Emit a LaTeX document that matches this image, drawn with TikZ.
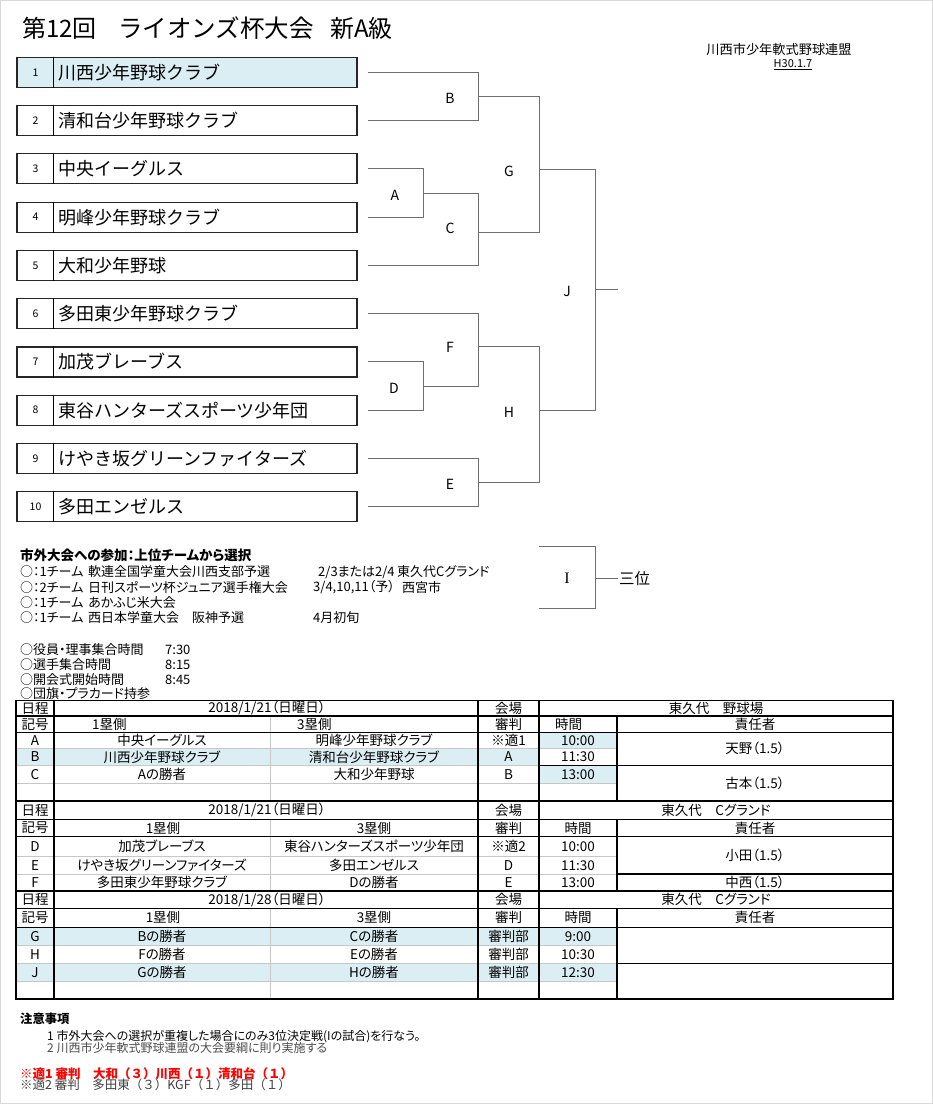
\documentclass[tikz,border=0pt]{standalone}
\usepackage{fontspec}
\setmainfont[RawFeature=+palt]{Noto Sans CJK JP}
\newfontfamily\jpfull{Noto Sans CJK JP}
\newfontfamily\seriffont{Liberation Serif}
\definecolor{cellblue}{RGB}{218,238,243}
\definecolor{bracketgray}{RGB}{110,110,110}

\begin{document}
\begin{tikzpicture}[x=1pt, y=-1pt,
    every node/.style={inner sep=1pt},
    teambox/.style={draw=black!85, line width=1.2pt, minimum width=340, minimum height=30},
    hl/.style={fill=cellblue},
    plain/.style={fill=white},
    bline/.style={draw=bracketgray, line width=0.9pt},
    mlabel/.style={font=\fontsize{14}{16}\selectfont},
    note/.style={anchor=west, font=\fontsize{13}{15}\selectfont},
    cell/.style={font=\fontsize{13.5}{15}\selectfont},
    rule/.style={line width=1.1pt},
    faint/.style={line width=0.6pt, black!22}]
  \useasboundingbox (0,0) rectangle (933,1104);
  \fill[white] (0,0) rectangle (933,1104);
  \draw[black!15, line width=0.8pt] (0.5,0.5) rectangle (932.5,1103.5);

  % title and header
  \node[anchor=west, font=\jpfull\fontsize{24}{26}\selectfont] (title1) at (21,28) {第12回};
  \node[anchor=west, font=\jpfull\fontsize{24.5}{26}\selectfont] (title2) at (117,28) {ライオンズ杯大会};
  \node[anchor=west, font=\jpfull\fontsize{24}{26}\selectfont] (title3) at (329,28) {新A級};
  \node[font=\fontsize{13.2}{15}\selectfont] (league) at (779,49) {川西市少年軟式野球連盟};
  \node[font=\fontsize{11}{13}\selectfont] (issued) at (793,65) {\underline{H30.1.7}};

  % teams
  \foreach \i/\team/\bg in {1/川西少年野球クラブ/hl, 2/清和台少年野球クラブ/plain,
      3/中央イーグルス/plain, 4/明峰少年野球クラブ/plain, 5/大和少年野球/plain,
      6/多田東少年野球クラブ/plain, 7/加茂ブレーブス/plain, 8/東谷ハンターズスポーツ少年団/plain,
      9/けやき坂グリーンファイターズ/plain, 10/多田エンゼルス/plain} {
    \pgfmathsetmacro\ty{72.3+(\i-1)*48.27}
    \node[teambox, \bg] (t\i) at (187,\ty) {};
    \draw[line width=1pt] ([xshift=37]t\i.north west) -- ([xshift=37]t\i.south west);
    \node[font=\fontsize{10.5}{12}\selectfont] (n\i) at (35.5,\ty) {\i};
    \node[anchor=west, font=\jpfull\fontsize{18}{20}\selectfont] (name\i) at (57,\ty) {\team};
  }

  % bracket
  \coordinate (mA) at (423,193.3);
  \coordinate (mB) at (478,96.7);
  \coordinate (mC) at (478,232.7);
  \coordinate (mD) at (423,386.3);
  \coordinate (mE) at (478,482.7);
  \coordinate (mF) at (478,346.3);
  \coordinate (mG) at (539,169);
  \coordinate (mH) at (539,410.3);
  \coordinate (mJ) at (595,289.3);
  \coordinate (win) at (617.7,289.3);
  \draw[bline] ([xshift=10]t1.east) -| (mB) ([xshift=10]t2.east) -| (mB)
    ([xshift=10]t3.east) -| (mA) ([xshift=10]t4.east) -| (mA)
    (mA) -| (mC) ([xshift=10]t5.east) -| (mC)
    (mB) -| (mG) (mC) -| (mG)
    ([xshift=10]t6.east) -| (mF) ([xshift=10]t7.east) -| (mD) ([xshift=10]t8.east) -| (mD)
    (mD) -| (mF) ([xshift=10]t9.east) -| (mE) ([xshift=10]t10.east) -| (mE)
    (mF) -| (mH) (mE) -| (mH)
    (mG) -| (mJ) (mH) -| (mJ) (mJ) -- (win);
  \node[mlabel] (lA) at (395,195) {A};
  \node[mlabel] (lB) at (450,98) {B};
  \node[mlabel] (lC) at (450,228) {C};
  \node[mlabel] (lD) at (394,388) {D};
  \node[mlabel] (lE) at (450,484) {E};
  \node[mlabel] (lF) at (450,347) {F};
  \node[mlabel] (lG) at (509,171) {G};
  \node[mlabel] (lH) at (509,412) {H};
  \node[mlabel] (lJ) at (567,291) {J};

  % third place
  \coordinate (iTop) at (539,546.7);
  \coordinate (iBot) at (539,608.7);
  \coordinate (mI) at (595,578.3);
  \node[mlabel, font=\seriffont\fontsize{16}{18}\selectfont] (lI) at (567,578.5) {I};
  \node[anchor=west, font=\fontsize{15.5}{17}\selectfont] (third) at (618,578.3) {三位};
  \draw[bline] (iTop) -| (mI) (iBot) -| (mI) (mI) -- (third.west);

  % notes
  \node[note, font=\bfseries\fontsize{13.5}{15}\selectfont] (sel) at (19,555) {市外大会への参加：上位チームから選択};
  \node[note] (o1) at (19,572) {○：1チーム};
  \node[note] (e1) at (87,572) {軟連全国学童大会川西支部予選};
  \node[note] (d1) at (317,572) {2/3または2/4};
  \node[note] (p1) at (396,572) {東久代Cグランド};
  \node[note] (o2) at (19,587.5) {○：2チーム};
  \node[note] (e2) at (87,587.5) {日刊スポーツ杯ジュニア選手権大会};
  \node[note] (d2) at (312,587.5) {3/4,10,11（予）};
  \node[note] (p2) at (401,587.5) {西宮市};
  \node[note] (o3) at (19,602.5) {○：1チーム};
  \node[note] (e3) at (87,602.5) {あかふじ米大会};
  \node[note] (o4) at (19,618) {○：1チーム};
  \node[note] (e4) at (87,618) {西日本学童大会　阪神予選};
  \node[note] (d4) at (312,618) {4月初旬};
  \foreach \k/\y/\what/\when in {1/650/○役員・理事集合時間/7:30, 2/665/○選手集合時間/8:15,
      3/679.5/○開会式開始時間/8:45} {
    \node[note] (s\k) at (19,\y) {\what};
    \node[note] (st\k) at (164,\y) {\when};
  }
  \node[note] (s4) at (19,694) {○団旗・プラカード持参};

  % schedule tables
  \fill[cellblue] (16,748.3) rectangle (539,765.7);
  \fill[cellblue] (539,732.3) rectangle (617,748.3);
  \fill[cellblue] (539,765.7) rectangle (617,783.3);
  \fill[cellblue] (16,927.3) rectangle (617,945);
  \fill[cellblue] (16,963.3) rectangle (617,981.7);
  \foreach \y in {748.3, 765.7, 783.3, 856.7, 874, 945, 963.3, 981.7}
    \draw[faint] (16,\y) -- (617,\y);
  \draw[faint] (270,716) -- (270,801) (270,819.3) -- (270,891) (270,908.3) -- (270,999);
  \draw[rule] (16,700.7) rectangle (893,999);
  \foreach \y in {716, 732.3, 801, 819.3, 836.7, 891, 908.3, 927.3}
    \draw[rule] (16,\y) -- (893,\y);
  \foreach \x in {54, 478, 539}
    \draw[rule] (\x,700.7) -- (\x,999);
  \draw[rule] (617,716) -- (617,801) (617,819.3) -- (617,891) (617,908.3) -- (617,999);
  \draw[rule] (539,765.7) -- (893,765.7) (617,874) -- (893,874) (617,963.3) -- (893,963.3);

  \foreach \n/\y in {1/708.3, 2/810.2, 3/899.7} {
    \node[cell] (sch\n) at (35,\y) {日程};
    \node[cell] (ven\n) at (508.5,\y) {会場};
  }
  \node[cell] (date1) at (267,708.3) {2018/1/21（日曜日）};
  \node[cell] (date2) at (267,810.2) {2018/1/21（日曜日）};
  \node[cell] (date3) at (267,899.7) {2018/1/28（日曜日）};
  \node[cell] (place1) at (716,708.3) {東久代　野球場};
  \node[cell] (place2) at (716,810.2) {東久代　Cグランド};
  \node[cell] (place3) at (716,899.7) {東久代　Cグランド};
  \foreach \n/\y in {1/724.2, 2/828, 3/917.8} {
    \node[cell] (sym\n) at (35,\y) {記号};
    \node[cell] (ump\n) at (508.5,\y) {審判};
    \node[cell] (res\n) at (755,\y) {責任者};
  }
  \node[cell, anchor=west] (first1) at (91,724.2) {1塁側};
  \node[cell, anchor=west] (third1) at (296,724.2) {3塁側};
  \node[cell, anchor=west] (time1) at (554,724.2) {時間};
  \foreach \n/\y in {2/828, 3/917.8} {
    \node[cell] (first\n) at (163,\y) {1塁側};
    \node[cell] (third\n) at (374,\y) {3塁側};
    \node[cell] (time\n) at (578,\y) {時間};
  }
  \foreach \k/\y/\p/\q/\u/\t in {A/740.3/中央イーグルス/明峰少年野球クラブ/※適1/10:00,
      B/757/川西少年野球クラブ/清和台少年野球クラブ/A/11:30,
      C/774.5/Aの勝者/大和少年野球/B/13:00,
      D/846.7/加茂ブレーブス/東谷ハンターズスポーツ少年団/※適2/10:00,
      E/865.3/けやき坂グリーンファイターズ/多田エンゼルス/D/11:30,
      F/882.5/多田東少年野球クラブ/Dの勝者/E/13:00,
      G/936.2/Bの勝者/Cの勝者/審判部/9:00,
      H/954.2/Fの勝者/Eの勝者/審判部/10:30,
      J/972.5/Gの勝者/Hの勝者/審判部/12:30} {
    \node[cell] (k\k) at (35,\y) {\k};
    \node[cell] (p\k) at (162,\y) {\p};
    \node[cell] (q\k) at (374,\y) {\q};
    \node[cell] (u\k) at (508.5,\y) {\u};
    \node[cell] (tm\k) at (578,\y) {\t};
  }
  \node[cell] (r1) at (755,748.3) {天野（1.5）};
  \node[cell] (r2) at (755,783.3) {古本（1.5）};
  \node[cell] (r3) at (755,855.5) {小田（1.5）};
  \node[cell] (r4) at (755,882.5) {中西（1.5）};

  % remarks
  \node[anchor=west, font=\bfseries\fontsize{12.3}{14}\selectfont] (caution) at (19,1019) {注意事項};
  \node[anchor=west, font=\fontsize{12}{13}\selectfont] (c1) at (46,1036.7) {1 市外大会への選択が重複した場合にのみ3位決定戦(Iの試合)を行なう。};
  \node[anchor=west, text=black!70, font=\fontsize{12}{13}\selectfont] (c2) at (46,1048.3) {2 川西市少年軟式野球連盟の大会要綱に則り実施する};
  \node[anchor=west, text=red, font=\jpfull\bfseries\fontsize{12.5}{14}\selectfont] (ump1) at (19,1073.3) {※適1 審判　大和（３）川西（１）清和台（１）};
  \node[anchor=west, text=black!75, font=\jpfull\fontsize{12.5}{14}\selectfont] (ump2) at (19,1085) {※適2 審判　多田東（３）KGF（１）多田（１）};
\end{tikzpicture}
\end{document}
